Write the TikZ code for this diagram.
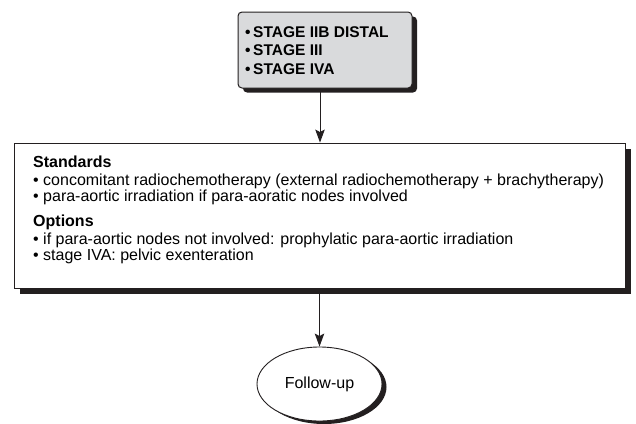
\documentclass[tikz,border=0pt]{standalone}
\usepackage{fontspec}
\setmainfont{Liberation Sans}
\usetikzlibrary{arrows.meta,shapes.geometric,shadows}
\definecolor{ink}{HTML}{231F20}
\definecolor{panel}{HTML}{D9DADC}
\tikzset{
  stagebox/.style={draw=ink, line width=1pt, fill=panel, rounded corners=4pt,
    drop shadow={shadow xshift=5pt, shadow yshift=-4.5pt, fill=ink, opacity=1}},
  planbox/.style={draw=ink, line width=0.9pt, fill=white,
    drop shadow={shadow xshift=6pt, shadow yshift=-6pt, fill=ink, opacity=1}},
  endnode/.style={ellipse, draw=ink, line width=0.9pt, fill=white,
    drop shadow={shadow xshift=4.5pt, shadow yshift=-3pt, fill=ink, opacity=1}},
  flow/.style={draw=ink, line width=1pt, -{Stealth[length=13pt,width=9.5pt,inset=2.5pt]}},
  headline/.style={anchor=base west, inner sep=0pt, font=\fontsize{15.5}{18}\selectfont\bfseries},
  bodyline/.style={anchor=base west, inner sep=0pt, font=\fontsize{16}{18}\selectfont},
  boldline/.style={anchor=base west, inner sep=0pt, font=\fontsize{16}{18}\selectfont\bfseries},
}
\begin{document}
\begin{tikzpicture}[x=1pt,y=-1pt]
\useasboundingbox (0,0) rectangle (636,423);

% stage box
\node[stagebox, minimum width=174pt, minimum height=76pt, inner sep=0pt] (stages) at (325,50) {};
\node[headline] (s1) at (245,37) {•\,STAGE IIB DISTAL};
\node[headline] (s2) at (245,55.5) {•\,STAGE III};
\node[headline] (s3) at (245,74) {•\,STAGE IVA};

% treatment box
\node[planbox, minimum width=611pt, minimum height=145pt, inner sep=0pt] (plan) at (319.5,215.5) {};
\node[boldline] (std) at (33,167) {Standards};
\node[bodyline] (t1) at (33,185) {•\ concomitant radiochemotherapy (external radiochemotherapy + brachytherapy)};
\node[bodyline] (t2) at (33,201.5) {•\ para-aortic irradiation if para-aoratic nodes involved};
\node[boldline] (opt) at (33,226) {Options};
\node[bodyline] (t3) at (33,244) {•\ if para-aortic nodes not involved: prophylatic para-aortic irradiation};
\node[bodyline] (t4) at (33,260.5) {•\ stage IVA: pelvic exenteration};

% follow-up
\node[endnode, minimum width=125pt, minimum height=74pt, inner sep=0pt,
  font=\fontsize{16}{18}\selectfont] (fu) at (319.5,384) {Follow-up};

% connectors
\coordinate (a1) at ([xshift=-5pt]stages.south);
\coordinate (a2) at (fu.north);
\draw[flow] (a1) -- (a1 |- plan.north);
\draw[flow] (a2 |- plan.south) -- (fu.north);
\end{tikzpicture}
\end{document}
